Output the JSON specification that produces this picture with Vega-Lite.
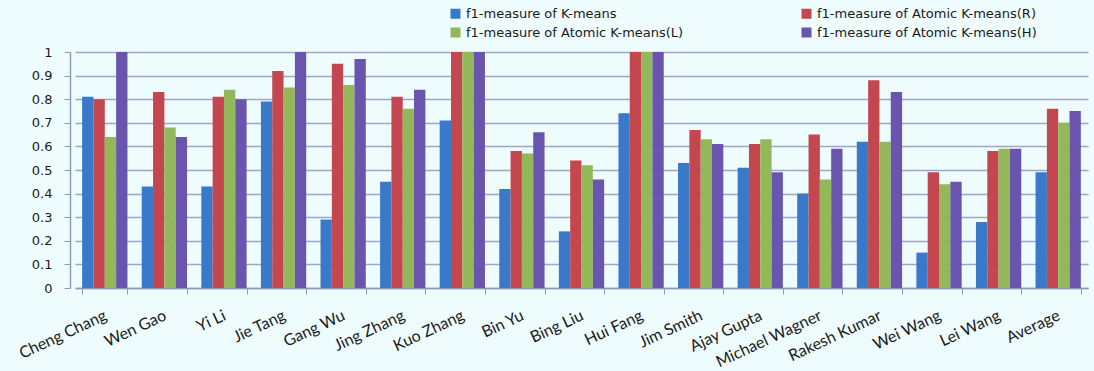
{
  "$schema": "https://vega.github.io/schema/vega-lite/v6.json",
  "autosize": {"type": "none"},
  "width": 1013,
  "height": 236,
  "padding": {"left": 75, "top": 52, "right": 6, "bottom": 83},
  "background": "#EFFCFE",
  "data": {"values": [
    {"name":"Cheng Chang","series":"f1-measure of K-means","value":0.81},
    {"name":"Cheng Chang","series":"f1-measure of Atomic K-means(R)","value":0.80},
    {"name":"Cheng Chang","series":"f1-measure of Atomic K-means(L)","value":0.64},
    {"name":"Cheng Chang","series":"f1-measure of Atomic K-means(H)","value":1.0},
    {"name":"Wen Gao","series":"f1-measure of K-means","value":0.43},
    {"name":"Wen Gao","series":"f1-measure of Atomic K-means(R)","value":0.83},
    {"name":"Wen Gao","series":"f1-measure of Atomic K-means(L)","value":0.68},
    {"name":"Wen Gao","series":"f1-measure of Atomic K-means(H)","value":0.64},
    {"name":"Yi Li","series":"f1-measure of K-means","value":0.43},
    {"name":"Yi Li","series":"f1-measure of Atomic K-means(R)","value":0.81},
    {"name":"Yi Li","series":"f1-measure of Atomic K-means(L)","value":0.84},
    {"name":"Yi Li","series":"f1-measure of Atomic K-means(H)","value":0.80},
    {"name":"Jie Tang","series":"f1-measure of K-means","value":0.79},
    {"name":"Jie Tang","series":"f1-measure of Atomic K-means(R)","value":0.92},
    {"name":"Jie Tang","series":"f1-measure of Atomic K-means(L)","value":0.85},
    {"name":"Jie Tang","series":"f1-measure of Atomic K-means(H)","value":1.0},
    {"name":"Gang Wu","series":"f1-measure of K-means","value":0.29},
    {"name":"Gang Wu","series":"f1-measure of Atomic K-means(R)","value":0.95},
    {"name":"Gang Wu","series":"f1-measure of Atomic K-means(L)","value":0.86},
    {"name":"Gang Wu","series":"f1-measure of Atomic K-means(H)","value":0.97},
    {"name":"Jing Zhang","series":"f1-measure of K-means","value":0.45},
    {"name":"Jing Zhang","series":"f1-measure of Atomic K-means(R)","value":0.81},
    {"name":"Jing Zhang","series":"f1-measure of Atomic K-means(L)","value":0.76},
    {"name":"Jing Zhang","series":"f1-measure of Atomic K-means(H)","value":0.84},
    {"name":"Kuo Zhang","series":"f1-measure of K-means","value":0.71},
    {"name":"Kuo Zhang","series":"f1-measure of Atomic K-means(R)","value":1.0},
    {"name":"Kuo Zhang","series":"f1-measure of Atomic K-means(L)","value":1.0},
    {"name":"Kuo Zhang","series":"f1-measure of Atomic K-means(H)","value":1.0},
    {"name":"Bin Yu","series":"f1-measure of K-means","value":0.42},
    {"name":"Bin Yu","series":"f1-measure of Atomic K-means(R)","value":0.58},
    {"name":"Bin Yu","series":"f1-measure of Atomic K-means(L)","value":0.57},
    {"name":"Bin Yu","series":"f1-measure of Atomic K-means(H)","value":0.66},
    {"name":"Bing Liu","series":"f1-measure of K-means","value":0.24},
    {"name":"Bing Liu","series":"f1-measure of Atomic K-means(R)","value":0.54},
    {"name":"Bing Liu","series":"f1-measure of Atomic K-means(L)","value":0.52},
    {"name":"Bing Liu","series":"f1-measure of Atomic K-means(H)","value":0.46},
    {"name":"Hui Fang","series":"f1-measure of K-means","value":0.74},
    {"name":"Hui Fang","series":"f1-measure of Atomic K-means(R)","value":1.0},
    {"name":"Hui Fang","series":"f1-measure of Atomic K-means(L)","value":1.0},
    {"name":"Hui Fang","series":"f1-measure of Atomic K-means(H)","value":1.0},
    {"name":"Jim Smith","series":"f1-measure of K-means","value":0.53},
    {"name":"Jim Smith","series":"f1-measure of Atomic K-means(R)","value":0.67},
    {"name":"Jim Smith","series":"f1-measure of Atomic K-means(L)","value":0.63},
    {"name":"Jim Smith","series":"f1-measure of Atomic K-means(H)","value":0.61},
    {"name":"Ajay Gupta","series":"f1-measure of K-means","value":0.51},
    {"name":"Ajay Gupta","series":"f1-measure of Atomic K-means(R)","value":0.61},
    {"name":"Ajay Gupta","series":"f1-measure of Atomic K-means(L)","value":0.63},
    {"name":"Ajay Gupta","series":"f1-measure of Atomic K-means(H)","value":0.49},
    {"name":"Michael Wagner","series":"f1-measure of K-means","value":0.40},
    {"name":"Michael Wagner","series":"f1-measure of Atomic K-means(R)","value":0.65},
    {"name":"Michael Wagner","series":"f1-measure of Atomic K-means(L)","value":0.46},
    {"name":"Michael Wagner","series":"f1-measure of Atomic K-means(H)","value":0.59},
    {"name":"Rakesh Kumar","series":"f1-measure of K-means","value":0.62},
    {"name":"Rakesh Kumar","series":"f1-measure of Atomic K-means(R)","value":0.88},
    {"name":"Rakesh Kumar","series":"f1-measure of Atomic K-means(L)","value":0.62},
    {"name":"Rakesh Kumar","series":"f1-measure of Atomic K-means(H)","value":0.83},
    {"name":"Wei Wang","series":"f1-measure of K-means","value":0.15},
    {"name":"Wei Wang","series":"f1-measure of Atomic K-means(R)","value":0.49},
    {"name":"Wei Wang","series":"f1-measure of Atomic K-means(L)","value":0.44},
    {"name":"Wei Wang","series":"f1-measure of Atomic K-means(H)","value":0.45},
    {"name":"Lei Wang","series":"f1-measure of K-means","value":0.28},
    {"name":"Lei Wang","series":"f1-measure of Atomic K-means(R)","value":0.58},
    {"name":"Lei Wang","series":"f1-measure of Atomic K-means(L)","value":0.59},
    {"name":"Lei Wang","series":"f1-measure of Atomic K-means(H)","value":0.59},
    {"name":"Average","series":"f1-measure of K-means","value":0.49},
    {"name":"Average","series":"f1-measure of Atomic K-means(R)","value":0.76},
    {"name":"Average","series":"f1-measure of Atomic K-means(L)","value":0.70},
    {"name":"Average","series":"f1-measure of Atomic K-means(H)","value":0.75}
  ]},
  "mark": {"type": "bar"},
  "encoding": {
    "x": {
      "field": "name", "type": "nominal", "sort": null,
      "scale": {"paddingInner": 0.24, "paddingOuter": 0.12},
      "axis": {
        "title": null, "labelAngle": -25, "labelAlign": "right", "labelBaseline": "top",
        "labelFont": "Lato", "labelFontSize": 16, "labelColor": "#1a1a1a",
        "labelPadding": 13, "labelOffset": -3,
        "tickBand": "extent", "tickOffset": -5, "tickSize": 6,
        "tickColor": "#8C9CB8", "domainColor": "#8C9CB8", "domainWidth": 1.5, "grid": false
      }
    },
    "xOffset": {"field": "series", "type": "nominal", "sort": ["f1-measure of K-means","f1-measure of Atomic K-means(R)","f1-measure of Atomic K-means(L)","f1-measure of Atomic K-means(H)"]},
    "y": {
      "field": "value", "type": "quantitative",
      "scale": {"domain": [0, 1], "nice": false},
      "axis": {
        "title": null, "values": [0,0.1,0.2,0.3,0.4,0.5,0.6,0.7,0.8,0.9,1], "format": "~g",
        "labelFont": "DejaVu Sans", "labelFontSize": 13, "labelColor": "#1a1a1a",
        "offset": 5, "tickSize": 6, "labelPadding": 12,
        "tickColor": "#8C9CB8", "domainColor": "#8C9CB8", "domainWidth": 1.5,
        "gridColor": "#9AA8C6", "gridWidth": 1.5
      }
    },
    "color": {
      "field": "series", "type": "nominal",
      "sort": ["f1-measure of K-means","f1-measure of Atomic K-means(R)","f1-measure of Atomic K-means(L)","f1-measure of Atomic K-means(H)"],
      "scale": {"domain": ["f1-measure of K-means","f1-measure of Atomic K-means(R)","f1-measure of Atomic K-means(L)","f1-measure of Atomic K-means(H)"],
                "range": ["#3A78C9","#C4464F","#93B85A","#6A55AE"]},
      "legend": {
        "title": null, "orient": "none", "legendX": 374, "legendY": -45,
        "values": ["f1-measure of K-means","f1-measure of Atomic K-means(L)","f1-measure of Atomic K-means(R)","f1-measure of Atomic K-means(H)"],
        "columns": 2, "columnPadding": 116, "rowPadding": 5,
        "symbolType": "square", "symbolSize": 100, "symbolStrokeWidth": 0,
        "labelFont": "DejaVu Sans", "labelFontSize": 13, "labelColor": "#1a1a1a", "labelLimit": 400
      }
    }
  },
  "config": {"view": {"stroke": null, "fill": "#EFFCFE"}}
}
